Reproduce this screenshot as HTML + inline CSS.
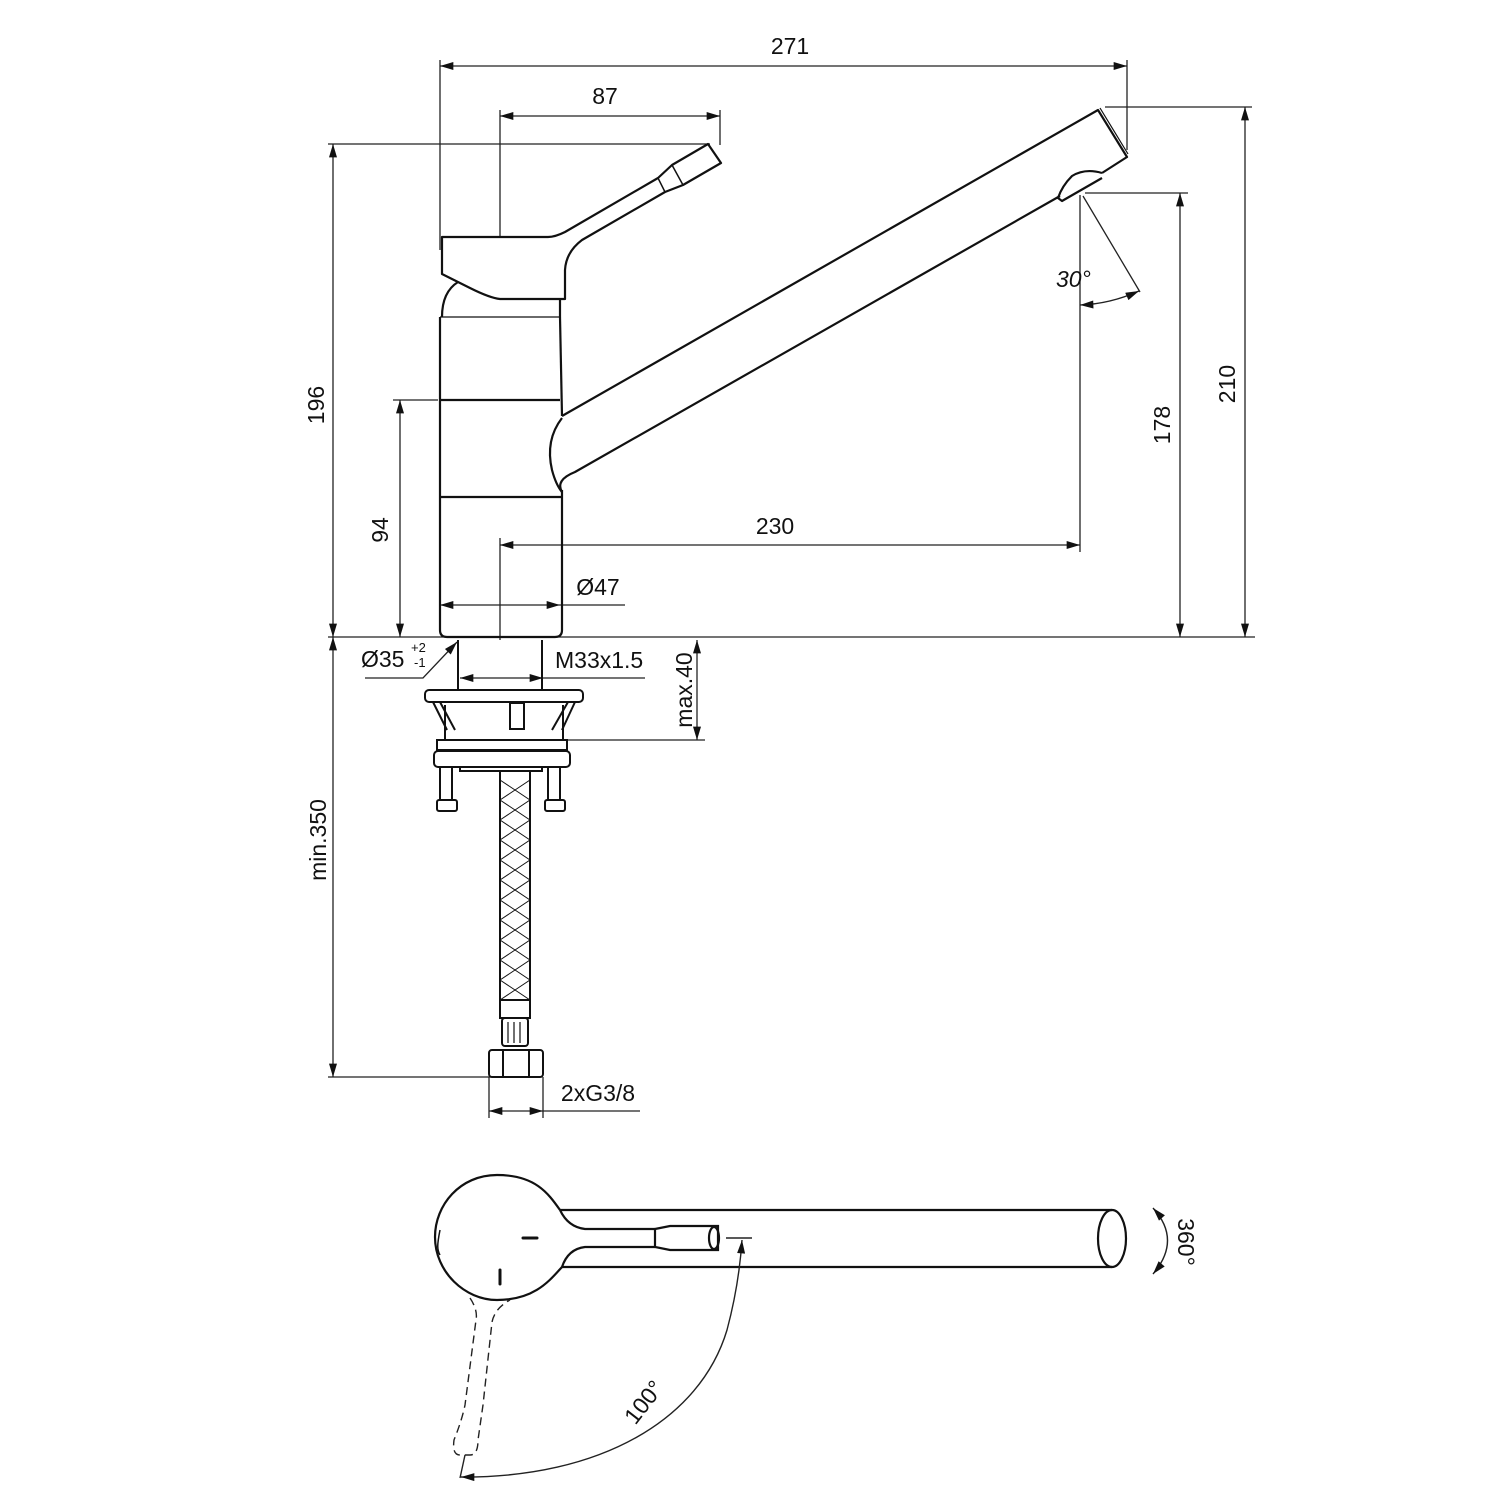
<!DOCTYPE html>
<html><head><meta charset="utf-8"><style>html,body{margin:0;padding:0;background:#fff}svg{display:block}</style></head>
<body>
<svg width="1500" height="1500" viewBox="0 0 1500 1500" xmlns="http://www.w3.org/2000/svg" font-family="Liberation Sans, Arial, sans-serif">
<defs>
<marker id="a" viewBox="0 0 10 6" refX="10" refY="3" markerWidth="18" markerHeight="8" markerUnits="userSpaceOnUse" orient="auto-start-reverse"><path d="M0,0 L10,3 L0,6 z" fill="#111"/></marker>
</defs>
<g stroke="#222" stroke-width="1.3" fill="none">
<!-- extension lines -->
<line x1="440" y1="60" x2="440" y2="250"/>
<line x1="1127" y1="60" x2="1127" y2="150"/>
<line x1="500" y1="110" x2="500" y2="237"/>
<line x1="720" y1="110" x2="720" y2="145"/>
<line x1="328" y1="144" x2="710" y2="144"/>
<line x1="393" y1="400" x2="438" y2="400"/>
<line x1="328" y1="637" x2="1255" y2="637"/>
<line x1="500" y1="538" x2="500" y2="640"/>
<line x1="1080" y1="195" x2="1080" y2="552"/>
<line x1="1085" y1="193" x2="1188" y2="193"/>
<line x1="1105" y1="107" x2="1252" y2="107"/>
<line x1="565" y1="740" x2="705" y2="740"/>
<line x1="328" y1="1077" x2="500" y2="1077"/>
<line x1="489" y1="1077" x2="489" y2="1118"/>
<line x1="543" y1="1077" x2="543" y2="1118"/>
<line x1="1083" y1="196" x2="1140" y2="292"/>
<!-- dimension lines -->
<line x1="440" y1="66" x2="1127" y2="66" marker-start="url(#a)" marker-end="url(#a)"/>
<line x1="500" y1="116" x2="720" y2="116" marker-start="url(#a)" marker-end="url(#a)"/>
<line x1="333" y1="144" x2="333" y2="637" marker-start="url(#a)" marker-end="url(#a)"/>
<line x1="400" y1="400" x2="400" y2="637" marker-start="url(#a)" marker-end="url(#a)"/>
<line x1="500" y1="545" x2="1080" y2="545" marker-start="url(#a)" marker-end="url(#a)"/>
<line x1="440" y1="605" x2="560" y2="605" marker-start="url(#a)" marker-end="url(#a)"/>
<line x1="560" y1="605" x2="625" y2="605"/>
<line x1="1180" y1="193" x2="1180" y2="637" marker-start="url(#a)" marker-end="url(#a)"/>
<line x1="1245" y1="107" x2="1245" y2="637" marker-start="url(#a)" marker-end="url(#a)"/>
<line x1="697" y1="640" x2="697" y2="740" marker-start="url(#a)" marker-end="url(#a)"/>
<line x1="333" y1="637" x2="333" y2="1077" marker-start="url(#a)" marker-end="url(#a)"/>
<line x1="460" y1="678" x2="543" y2="678" marker-start="url(#a)" marker-end="url(#a)"/>
<line x1="543" y1="678" x2="645" y2="678"/>
<line x1="489" y1="1111" x2="543" y2="1111" marker-start="url(#a)" marker-end="url(#a)"/>
<line x1="543" y1="1111" x2="640" y2="1111"/>
<polyline points="365,678 423,678 457,642" marker-end="url(#a)"/>
<path d="M1080,305 Q1110,304 1139,291" marker-start="url(#a)" marker-end="url(#a)"/>
</g>
<!-- faucet side view -->
<g stroke="#111" stroke-width="2.2" fill="none" stroke-linejoin="round">
<!-- body -->
<path d="M442,317 Q442,292 458,282"/>
<path d="M560,300 L560,317"/>
<path d="M440,317 L440,630 Q440,637 447,637 L555,637 Q562,637 562,630 L562,490"/>
<line x1="440" y1="317" x2="560" y2="317" stroke-width="1.3"/>
<line x1="440" y1="400" x2="560" y2="400"/>
<line x1="440" y1="497" x2="562" y2="497"/>
<path d="M560,317 L562,416"/>
<!-- spout -->
<path d="M562,416 L1098,110 L1127,157 L1102,173"/>
<path d="M1100,108 L1128,154" stroke-width="1.2"/>
<path d="M1060,196 L575,472 Q555,480 562,492"/>
<path d="M562,418 Q545,440 552,470 Q556,485 562,492"/>
<path d="M1102,173 Q1085,168 1072,176 Q1062,186 1058,198 L1062,201 L1102,178"/>
<!-- handle -->
<path d="M442,237 L548,237 Q555,237 565,232 L658,178 L672,165 L708,144 L721,163 L683,185 L665,192 L582,240 Q566,252 565,270 L565,299 L500,299 Q490,298 470,288 L442,274 Z"/>
<line x1="658" y1="178" x2="665" y2="192" stroke-width="1.5"/>
<line x1="672" y1="165" x2="683" y2="185" stroke-width="1.5"/>
</g>
<!-- mounting -->
<g stroke="#111" stroke-width="2" fill="none">
<line x1="458" y1="640" x2="458" y2="690"/>
<line x1="542" y1="640" x2="542" y2="690"/>
<rect x="425" y="690" width="158" height="12" rx="4"/>
<path d="M433,702 L447,730 M440,702 L455,730 M575,702 L562,730 M568,702 L552,730"/>
<path d="M445,705 L445,740 M563,705 L563,740"/>
<rect x="510" y="703" width="14" height="26"/>
<rect x="437" y="740" width="130" height="10"/>
<rect x="434" y="751" width="136" height="16" rx="4"/>
<rect x="460" y="767" width="82" height="4"/>
<path d="M440,767 L440,800 M452,767 L452,800 M548,767 L548,800 M560,767 L560,800"/>
<rect x="437" y="800" width="20" height="11" rx="2"/>
<rect x="545" y="800" width="20" height="11" rx="2"/>
<line x1="500" y1="771" x2="500" y2="1000"/>
<line x1="530" y1="771" x2="530" y2="1000"/>
<path d="M500,780 L530,800 M500,800 L530,780 M500,800 L530,820 M500,820 L530,800 M500,820 L530,840 M500,840 L530,820 M500,840 L530,860 M500,860 L530,840 M500,860 L530,880 M500,880 L530,860 M500,880 L530,900 M500,900 L530,880 M500,900 L530,920 M500,920 L530,900 M500,920 L530,940 M500,940 L530,920 M500,940 L530,960 M500,960 L530,940 M500,960 L530,980 M500,980 L530,960 M500,980 L530,1000 M500,1000 L530,980" stroke-width="1"/>
<rect x="500" y="1000" width="30" height="18"/>
<rect x="502" y="1018" width="26" height="28" rx="3"/>
<path d="M508,1022 V1043 M514,1022 V1043 M520,1022 V1043" stroke-width="1.2"/>
<rect x="489" y="1050" width="54" height="27" rx="3"/>
<line x1="503" y1="1050" x2="503" y2="1077"/>
<line x1="529" y1="1050" x2="529" y2="1077"/>
</g>
<!-- top view -->
<g stroke="#111" stroke-width="2.2" fill="none">
<path d="M560,1210 C548,1193 535,1175 497,1175 C460,1175 435,1205 435,1237 C435,1272 465,1300 497,1300 C535,1300 550,1280 562,1267"/>
<path d="M440,1230 C437,1245 437,1250 440,1255" stroke-width="1.5"/>
<path d="M560,1210 Q568,1227 585,1229 L655,1229"/>
<path d="M562,1267 Q568,1249 585,1247 L655,1247"/>
<path d="M655,1229 L670,1226 L718,1226 L718,1250 L670,1250 L655,1247 Z"/>
<ellipse cx="714" cy="1238" rx="5" ry="11"/>
<line x1="560" y1="1210" x2="1112" y2="1210"/>
<line x1="562" y1="1267" x2="1112" y2="1267"/>
<ellipse cx="1112" cy="1238.5" rx="14" ry="28.5"/>
<line x1="523" y1="1238" x2="537" y2="1238" stroke-width="3" stroke-linecap="round"/>
<line x1="500" y1="1270" x2="500" y2="1284" stroke-width="3" stroke-linecap="round"/>
</g>
<g stroke="#222" stroke-width="1.4" fill="none">
<path d="M470,1298 Q478,1310 476,1320 L465,1405 Q462,1420 454,1440 Q452,1455 460,1455 L470,1455 Q478,1455 478,1440 L483,1405 L492,1322 Q495,1308 510,1300" stroke-dasharray="8,5"/>
<line x1="465" y1="1455" x2="460" y2="1478"/>
<line x1="726" y1="1238" x2="752" y2="1238"/>
<path d="M461,1477 C600,1478 700,1420 727,1330 C735,1300 740,1270 742,1240" marker-start="url(#a)" marker-end="url(#a)"/>
<path d="M1153,1208 Q1182,1240 1153,1274" marker-start="url(#a)" marker-end="url(#a)"/>
</g>
<!-- text -->
<g fill="#111" font-size="23">
<text x="790" y="54" text-anchor="middle">271</text>
<text x="605" y="104" text-anchor="middle">87</text>
<text x="775" y="534" text-anchor="middle">230</text>
<text x="598" y="595" text-anchor="middle">Ø47</text>
<text x="361" y="667">Ø35</text>
<text x="411" y="652" font-size="13">+2</text>
<text x="414" y="667" font-size="13">-1</text>
<text x="555" y="668">M33x1.5</text>
<text x="598" y="1101" text-anchor="middle">2xG3/8</text>
<text x="1056" y="287" font-style="italic">30°</text>
<text transform="translate(324,405) rotate(-90)" text-anchor="middle">196</text>
<text transform="translate(388,530) rotate(-90)" text-anchor="middle">94</text>
<text transform="translate(1170,425) rotate(-90)" text-anchor="middle">178</text>
<text transform="translate(1235,384) rotate(-90)" text-anchor="middle">210</text>
<text transform="translate(692,690) rotate(-90)" text-anchor="middle">max.40</text>
<text transform="translate(326,840) rotate(-90)" text-anchor="middle">min.350</text>
<text transform="translate(1178,1242) rotate(90)" text-anchor="middle">360°</text>
<text transform="translate(650,1407) rotate(-52)" text-anchor="middle">100°</text>
</g>
</svg>
</body></html>
